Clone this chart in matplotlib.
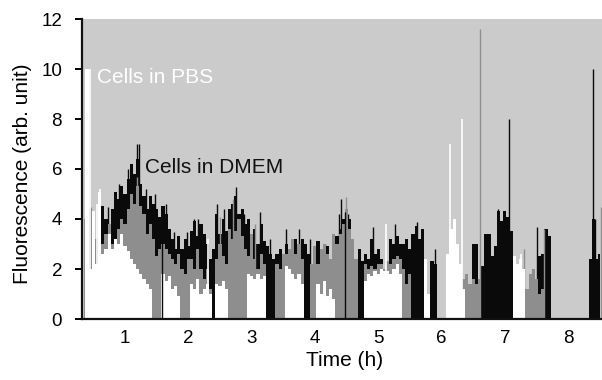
import numpy as np
import matplotlib
matplotlib.use("Agg")
import matplotlib.pyplot as plt

plt.rcParams['font.family'] = ['Liberation Sans', 'DejaVu Sans']

# time grid (h), bins of 0.05 h
t_start, t_step, n_bins = 0.35, 0.05, 164

white_vals = [
    0, 10.0, 2.0, 4.3, 2.2, 5.1, 2.6, 2.8, 3.4, 2.8,
    3.2, 3.0, 3.4, 2.9, 2.7, 2.4, 2.2, 2.0, 1.8, 1.6,
    1.4, 1.2, 0, 0, 0, 1.8, 1.5, 1.7, 1.2, 1.3,
    0.9, 0, 0, 0, 1.4, 1.2, 1.6, 1.0, 1.2, 1.4,
    1.0, 0, 1.4, 1.3, 1.5, 1.2, 0, 0, 0, 0,
    0, 0, 1.8, 1.7, 1.6, 1.8, 1.6, 1.7, 0, 0,
    0, 0, 0, 0, 2.1, 2.0, 1.8, 1.6, 1.8, 1.4,
    0, 0, 0, 0, 1.4, 1.0, 1.5, 0.9, 1.2, 0.8,
    0, 0, 0, 0, 0, 0, 0, 0, 0, 1.5,
    1.8, 1.7, 1.9, 1.8, 2.0, 1.9, 1.9, 1.8, 2.0, 2.2,
    1.8, 0, 0, 0, 0, 0, 0, 0, 2.4, 1.0,
    0, 0, 0, 0, 0, 2.6, 3.6, 4.0, 3.0, 2.2,
    1.2, 0, 0, 0, 0, 0, 0, 0, 0, 0,
    0, 0, 0, 0, 0, 0, 2.5, 2.2, 2.4, 2.0,
    0, 0, 0, 0, 0, 0, 0, 0, 0, 0,
    0, 0, 0, 0, 0, 0, 0, 0, 0, 0,
    0, 0, 0, 0,
]

gray_vals = [
    4.0, 0, 4.4, 2.2, 3.2, 3.0, 3.0, 3.4, 3.8, 3.0,
    3.2, 3.6, 4.0, 3.8, 4.4, 5.0, 4.6, 5.3, 4.5, 4.2,
    3.4, 3.8, 3.2, 2.5, 2.8, 3.0, 2.8, 2.6, 2.4, 2.2,
    2.6, 2.0, 1.8, 2.4, 2.4, 2.0, 2.8, 2.0, 1.6, 2.0,
    1.2, 0, 2.4, 3.0, 2.5, 2.2, 3.6, 3.2, 3.5, 4.0,
    3.3, 2.8, 2.5, 3.4, 2.4, 2.0, 2.6, 2.2, 0, 0,
    0, 2.2, 2.0, 2.6, 2.6, 2.8, 3.2, 2.6, 3.0, 2.4,
    0, 0, 2.2, 2.9, 2.2, 2.8, 3.0, 2.6, 2.4, 3.4,
    3.0, 3.4, 3.8, 4.4, 3.6, 3.2, 2.4, 0, 0, 2.2,
    2.0, 2.1, 2.0, 2.2, 2.2, 2.0, 2.3, 2.2, 2.4, 2.5,
    2.4, 2.0, 1.4, 1.8, 0, 0, 0, 0, 0, 0,
    0, 0, 0, 0, 0, 0, 0, 0, 0, 0,
    1.6, 1.8, 1.4, 1.6, 1.4, 1.6, 0, 0, 0, 0,
    0, 0, 0, 0, 0, 0, 0, 0, 0, 0,
    1.2, 1.8, 2.0, 1.6, 1.0, 1.2, 0, 0, 0, 0,
    0, 0, 0, 0, 0, 0, 0, 0, 0, 0,
    0, 0, 0, 0,
]

black_vals = [
    0, 0, 0, 0, 0, 3.2, 4.5, 4.0, 3.8, 4.4,
    5.1, 4.8, 5.3, 5.0, 5.6, 6.2, 5.8, 6.4, 5.4, 4.9,
    4.4, 4.9, 4.6, 4.4, 4.1, 4.5, 4.2, 3.6, 3.2, 2.8,
    3.3, 2.8, 3.2, 2.9, 3.5, 3.9, 3.3, 3.8, 3.4, 3.0,
    2.4, 2.8, 4.2, 3.4, 4.0, 3.5, 4.4, 4.6, 4.9, 4.2,
    4.4, 3.8, 4.0, 3.2, 3.6, 3.0, 3.8, 3.1, 2.9, 2.6,
    2.4, 2.6, 2.8, 2.4, 3.0, 2.6, 2.8, 3.2, 3.0, 3.2,
    3.0, 2.6, 2.2, 2.8, 3.1, 2.5, 2.4, 2.9, 2.0, 3.0,
    3.3, 3.6, 4.0, 3.2, 4.0, 3.0, 2.2, 2.8, 2.3, 2.6,
    2.4, 3.2, 2.6, 2.8, 2.4, 2.0, 2.2, 3.2, 3.0, 3.3,
    3.0, 3.0, 3.2, 2.8, 3.4, 3.7, 3.2, 3.6, 0, 0,
    2.3, 2.2, 0, 0, 0, 0, 0, 0, 0, 0,
    0, 0, 0, 3.0, 3.0, 0, 2.1, 3.4, 3.4, 2.5,
    2.9, 4.3, 3.9, 4.3, 4.1, 3.5, 0, 0, 0, 0,
    0, 0, 0, 0, 2.5, 2.6, 3.6, 3.3, 0, 0,
    0, 0, 0, 0, 0, 0, 0, 0, 0, 0,
    2.4, 4.0, 2.4, 2.6,
]

# thin spikes (time h, value)
white_spike_t = [0.44, 0.56, 0.605, 2.31, 5.13, 6.13, 6.32, 7.26]
white_spike_v = [10.0, 4.6, 5.2, 3.2, 3.8, 7.0, 8.0, 2.6]

gray_spike_t = [0.47, 1.19, 2.50, 2.70, 3.05, 4.49, 6.608, 7.30, 7.62, 8.525]
gray_spike_v = [4.5, 5.7, 4.1, 4.8, 3.8, 4.9, 11.6, 2.8, 3.6, 4.5]

black_spike_t = [0.63, 0.73, 0.90, 1.05, 1.185, 1.226, 1.33, 1.47, 1.64, 1.78,
                 1.98, 2.095, 2.16, 2.45, 2.57, 2.749, 2.88, 3.14, 3.29, 3.54,
                 3.75, 3.93, 4.16, 4.32, 4.38, 4.42, 4.53, 4.70, 4.92, 5.27,
                 5.61, 5.90, 6.89, 7.07, 7.51, 8.39, 8.42]
black_spike_v = [4.5, 4.5, 5.4, 6.0, 7.0, 7.0, 5.2, 5.0, 4.6, 3.5,
                 3.5, 4.0, 4.0, 4.6, 4.4, 5.3, 4.2, 4.3, 3.2, 3.6,
                 3.6, 3.2, 3.0, 3.2, 4.2, 4.8, 4.2, 2.8, 3.7, 3.8,
                 3.9, 2.8, 4.4, 8.0, 3.7, 10.0, 4.0]

# black traces visible down to baseline (drawn in front)
black_front_t = [1.582, 4.475]
black_front_v = [4.4, 4.3]

x_ticks = [1, 2, 3, 4, 5, 6, 7, 8]
y_ticks = [0, 2, 4, 6, 8, 10, 12]

BG = '#cbcbcb'
GRAY = '#8e8e8e'
BLACK = '#0a0a0a'
WHITE = '#ffffff'

t = t_start + t_step * np.arange(n_bins)

fig = plt.figure(figsize=(6.02, 3.80), dpi=100)
ax = fig.add_axes([81.5 / 602, 1 - 319 / 380, 1 - 81.5 / 602, 300 / 380])
ax.set_facecolor(BG)

ax.fill_between(t, 0, black_vals, step='mid', color=BLACK, lw=0, zorder=1)
ax.vlines(black_spike_t, 0, black_spike_v, color=BLACK, lw=1.0, zorder=1.5)
ax.fill_between(t, 0, gray_vals, step='mid', color=GRAY, lw=0, zorder=2)
ax.vlines(gray_spike_t, 0, gray_spike_v, color=GRAY, lw=1.0, zorder=2.5)
ax.fill_between(t, 0, white_vals, step='mid', color=WHITE, lw=0, zorder=3)
ax.vlines(white_spike_t, 0, white_spike_v, color=WHITE, lw=1.2, zorder=3.5)
ax.vlines(black_front_t, 0, black_front_v, color=BLACK, lw=1.0, zorder=4)

ax.set_xlim(0.313, 8.535)
ax.set_ylim(0, 12)

for s in ['top', 'right']:
    ax.spines[s].set_visible(False)
for s in ['left', 'bottom']:
    ax.spines[s].set_linewidth(1.6)
    ax.spines[s].set_color('#111111')
    ax.spines[s].set_zorder(6)

ax.set_yticks(y_ticks)
ax.set_yticklabels([str(v) for v in y_ticks])
ax.tick_params(axis='y', length=5, width=1.4, pad=9, labelsize=13.5, direction='out')
ax.set_xticks(x_ticks)
ax.set_xticklabels([str(v) for v in x_ticks])
ax.tick_params(axis='x', length=0, pad=8, labelsize=13.5)
ax.set_xticks([1, 2], minor=True)
ax.tick_params(axis='x', which='minor', length=4, width=1.4, direction='out')

ax.set_xlabel('Time (h)', fontsize=15, va='top')
ax.xaxis.set_label_coords(0.506, -0.107)
ax.set_ylabel('Fluorescence (arb. unit)', fontsize=15)
ax.yaxis.set_label_coords(-0.095, 0.485)

ax.text(0.553, 9.43, 'Cells in PBS', color='white', fontsize=15, ha='left', va='baseline', zorder=7)
ax.text(1.316, 5.83, 'Cells in DMEM', color='#111111', fontsize=15, ha='left', va='baseline', zorder=7)

fig.savefig('out.png', dpi=100)
